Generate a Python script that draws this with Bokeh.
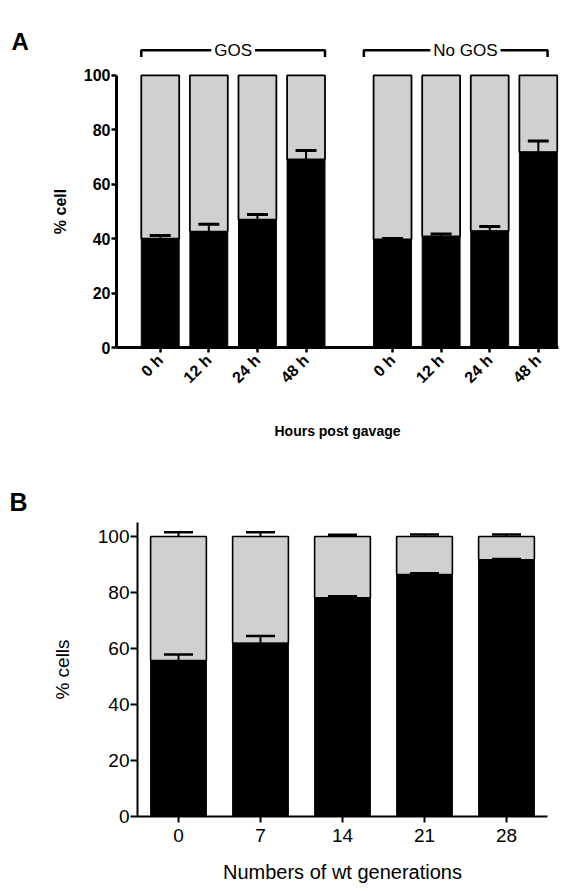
import math
from bokeh.plotting import figure
from bokeh.models import (ColumnDataSource, FixedTicker, Label, Whisker, TeeHead,
                          Range1d, FactorRange)
from bokeh.embed import file_html
from bokeh.resources import INLINE

# ---------------- data ----------------
# Panel A
groups_a = ["GOS", "No GOS"]
hours_a = ["0 h", "12 h", "24 h", "48 h"]
black_gos = [40.0, 42.6, 47.0, 69.1]
black_gos_err = [1.2, 2.7, 1.9, 3.3]
black_nogos = [39.7, 40.8, 42.8, 71.8]
black_nogos_err = [0.4, 0.9, 1.7, 4.1]
total_pct = 100

# Panel B
gens_b = ["0", "7", "14", "21", "28"]
black_b = [55.7, 61.9, 78.1, 86.4, 91.7]
black_b_err = [2.2, 2.6, 0.6, 0.5, 0.3]
grey_b_err = [1.5, 1.5, 0.6, 0.7, 0.7]

FONT = "Liberation Sans"
GREY = "#d0d0d0"

# ---------------- panel A ----------------
GROUP_GAP = 0.78
BAR_W_A = 0.78
xs_a, labels_a, black_a, err_a = [], [], [], []
for gi, (vals, errs) in enumerate([(black_gos, black_gos_err), (black_nogos, black_nogos_err)]):
    for hi, h in enumerate(hours_a):
        xs_a.append(round(gi * (len(hours_a) + GROUP_GAP) + hi, 4))
        labels_a.append(h)
        black_a.append(vals[hi])
        err_a.append(errs[hi])

src_a = ColumnDataSource(dict(
    x=xs_a, black=black_a, total=[total_pct] * len(xs_a),
    upper=[b + e for b, e in zip(black_a, err_a)],
))

pa = figure(width=580, height=470, x_range=Range1d(-0.9, 8.195), y_range=Range1d(0, 118),
            output_backend="svg", toolbar_location=None,
            min_border_left=116, min_border_right=22, min_border_top=26, min_border_bottom=123)
pa.vbar(x="x", width=BAR_W_A, bottom="black", top="total", source=src_a,
        fill_color=GREY, line_color="black", line_width=1.8)
pa.vbar(x="x", width=BAR_W_A, bottom=0, top="black", source=src_a,
        fill_color="black", line_color="black", line_width=1)
pa.add_layout(Whisker(source=src_a, base="x", lower="black", upper="upper", dimension="height",
                      line_color="black", line_width=2, level="overlay",
                      upper_head=TeeHead(size=21, line_width=3, line_color="black"),
                      lower_head=None))

# group brackets
bracket_shift = [0.0, -0.2]
for gi, g in enumerate(groups_a):
    gx = xs_a[gi * len(hours_a):(gi + 1) * len(hours_a)]
    left = gx[0] - BAR_W_A / 2 + bracket_shift[gi]
    right = gx[-1] + BAR_W_A / 2 + bracket_shift[gi]
    pa.line(x=[left, left, right, right], y=[106.8, 109.3, 109.3, 106.8],
            line_color="black", line_width=2.5)
    mid = (gx[0] + gx[-1]) / 2
    pa.add_layout(Label(x=mid, y=109.3, text=g, text_align="center", text_baseline="alphabetic",
                        text_font=FONT, text_font_size="17px", text_color="black",
                        background_fill_color="white", padding=3))

pa.xaxis.ticker = FixedTicker(ticks=xs_a)
pa.xaxis.major_label_overrides = {x: lab for x, lab in zip(xs_a, labels_a)}
pa.xaxis.major_label_orientation = math.pi / 4
pa.yaxis.ticker = FixedTicker(ticks=[0, 20, 40, 60, 80, 100])
pa.yaxis.bounds = (0, 100)
for ax in (pa.xaxis, pa.yaxis):
    ax.axis_line_width = 3
    ax.major_tick_line_width = 2.5
    ax.major_tick_in = 0
    ax.major_tick_out = 5
    ax.minor_tick_line_color = None
    ax.major_label_text_font = FONT
    ax.major_label_text_font_style = "bold"
    ax.major_label_text_color = "black"
    ax.axis_line_color = "black"
    ax.major_tick_line_color = "black"
pa.xaxis.major_label_text_font_size = "16px"
pa.yaxis.major_label_text_font_size = "16px"
pa.yaxis.major_label_standoff = 1
pa.xaxis.major_label_standoff = 5
pa.xaxis.axis_label = "Hours post gavage"
pa.xaxis.axis_label_text_font = FONT
pa.xaxis.axis_label_text_font_style = "bold"
pa.xaxis.axis_label_text_font_size = "14px"
pa.xaxis.axis_label_text_color = "black"
pa.xaxis.axis_label_standoff = 28
pa.add_layout(Label(x=-2.05, y=50, text="% cell", angle=math.pi / 2, text_align="center",
                    text_baseline="middle", text_font=FONT, text_font_style="bold",
                    text_font_size="16px", text_color="black"), "left")
pa.add_layout(Label(x=-3.06, y=112.5, text="A", text_align="left", text_baseline="alphabetic",
                    text_font=FONT, text_font_style="bold", text_font_size="24px",
                    text_color="black"), "left")
pa.xgrid.visible = False
pa.ygrid.visible = False
pa.outline_line_color = None

# ---------------- panel B ----------------
BAR_W_B = 0.68
src_b = ColumnDataSource(dict(
    g=gens_b, black=black_b, total=[total_pct] * len(gens_b),
    upper=[b + e for b, e in zip(black_b, black_b_err)],
    gupper=[total_pct + e for e in grey_b_err],
))
pb = figure(width=580, height=421, x_range=FactorRange(*gens_b, range_padding=0),
            y_range=Range1d(0, 105), output_backend="svg", toolbar_location=None,
            min_border_left=137, min_border_right=33, min_border_top=52, min_border_bottom=75)
pb.vbar(x="g", width=BAR_W_B, bottom="black", top="total", source=src_b,
        fill_color=GREY, line_color="black", line_width=1.6)
pb.vbar(x="g", width=BAR_W_B, bottom=0, top="black", source=src_b,
        fill_color="black", line_color="black", line_width=1)
pb.add_layout(Whisker(source=src_b, base="g", lower="black", upper="upper", dimension="height",
                      line_color="black", line_width=2, level="overlay",
                      upper_head=TeeHead(size=29, line_width=2.5, line_color="black"),
                      lower_head=None))
pb.add_layout(Whisker(source=src_b, base="g", lower="total", upper="gupper", dimension="height",
                      line_color="black", line_width=2, level="overlay",
                      upper_head=TeeHead(size=29, line_width=2.5, line_color="black"),
                      lower_head=None))
pb.yaxis.ticker = FixedTicker(ticks=[0, 20, 40, 60, 80, 100])
for ax in (pb.xaxis, pb.yaxis):
    ax.axis_line_width = 2
    ax.major_tick_line_width = 2
    ax.major_tick_in = 0
    ax.minor_tick_line_color = None
    ax.major_label_text_font = FONT
    ax.major_label_text_font_size = "19px"
    ax.major_label_text_color = "black"
    ax.axis_line_color = "black"
    ax.major_tick_line_color = "black"
    ax.axis_label_text_font = FONT
    ax.axis_label_text_font_style = "normal"
    ax.axis_label_text_color = "black"
pb.yaxis.major_tick_out = 7
pb.xaxis.major_tick_out = 6
pb.yaxis.major_label_standoff = 1
pb.xaxis.major_label_standoff = 6
pb.yaxis.axis_label = "% cells"
pb.yaxis.axis_label_text_font_size = "19px"
pb.yaxis.axis_label_standoff = 22
pb.xaxis.axis_label = "Numbers of wt generations"
pb.xaxis.axis_label_text_font_size = "20px"
pb.xaxis.axis_label_standoff = 16
pb.add_layout(Label(x=-1.56, y=112.25, text="B", text_align="left", text_baseline="alphabetic",
                    text_font=FONT, text_font_style="bold", text_font_size="25px",
                    text_color="black"), "left")
pb.xgrid.visible = False
pb.ygrid.visible = False
pb.outline_line_color = None

open("out.html", "w").write(file_html([pa, pb], INLINE))
